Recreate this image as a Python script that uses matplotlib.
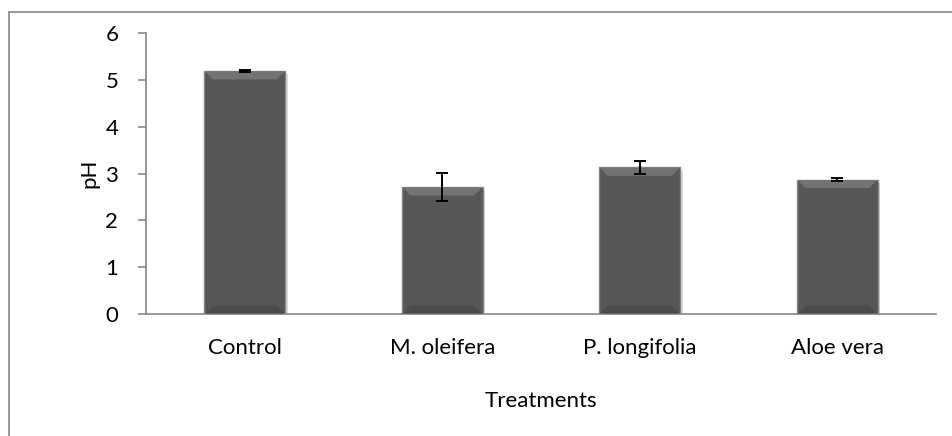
import matplotlib
matplotlib.use("Agg")
import matplotlib.pyplot as plt
from matplotlib.patches import Rectangle, Polygon

TREATMENTS = ["Control", "M. oleifera", "P. longifolia", "Aloe vera"]
PH_MEAN = [5.19, 2.71, 3.13, 2.87]
PH_ERR = [0.02, 0.30, 0.13, 0.03]
Y_TICKS = [0, 1, 2, 3, 4, 5, 6]

FONT = "Lato"
FS = 16
AXIS_GRAY = "#868686"
BAR_W = 0.41

fig = plt.figure(figsize=(9.52, 4.36), dpi=100)
ax = fig.add_axes([0.1534, 0.2798, 0.8298, 0.6445])

# outer chart-area frame (runs off right/bottom edges like the source)
fig.patches.append(Rectangle((9 / 952, -0.05), 1.0, (436 - 12) / 436 + 0.05,
                             transform=fig.transFigure, fill=False,
                             edgecolor=AXIS_GRAY, lw=1.2))

x = list(range(len(TREATMENTS)))
# soft shadow behind each bar
ax.bar([i + 0.012 for i in x], PH_MEAN, BAR_W, bottom=-0.07, color="#dadada",
       edgecolor="none", zorder=1)
ax.bar(x, PH_MEAN, BAR_W, color="#575757", edgecolor="#858585", lw=1.0,
       zorder=2)
# bevel: lighter trapezoid at the top, darker one at the bottom (45 deg corners)
h = BAR_W / 2 - 0.004
for i, v in enumerate(PH_MEAN):
    ax.add_patch(Polygon([(i - h, v - 0.01), (i + h, v - 0.01),
                          (i + h - 0.04, v - 0.18), (i - h + 0.04, v - 0.18)],
                         closed=True, color="#737373", lw=0, zorder=3))
    ax.add_patch(Polygon([(i - h, 0.01), (i + h, 0.01),
                          (i + h - 0.04, 0.18), (i - h + 0.04, 0.18)],
                         closed=True, color="#4b4b4b", lw=0, zorder=3))
ax.errorbar(x, PH_MEAN, yerr=PH_ERR, fmt="none", ecolor="black", elinewidth=1.4,
            capsize=4, capthick=1.4, zorder=4)

ax.set_xlim(-0.5, len(TREATMENTS) - 0.5)
ax.set_ylim(0, 6)
ax.set_yticks(Y_TICKS)
ax.set_yticklabels([str(t) for t in Y_TICKS], fontsize=FS, family=FONT)
ax.set_xticks(x)
ax.set_xticklabels(TREATMENTS, fontsize=FS, family=FONT)
ax.tick_params(axis="x", length=0, pad=17)
ax.tick_params(axis="y", length=6, width=1.2, color=AXIS_GRAY, pad=14)
ax.set_xlabel("Treatments", fontsize=FS, family=FONT, labelpad=24)
ax.set_ylabel("pH", fontsize=FS, family=FONT, labelpad=4)

for s in ("top", "right"):
    ax.spines[s].set_visible(False)
for s in ("left", "bottom"):
    ax.spines[s].set_color(AXIS_GRAY)
    ax.spines[s].set_linewidth(1.2)

fig.savefig("out.png", dpi=100)
